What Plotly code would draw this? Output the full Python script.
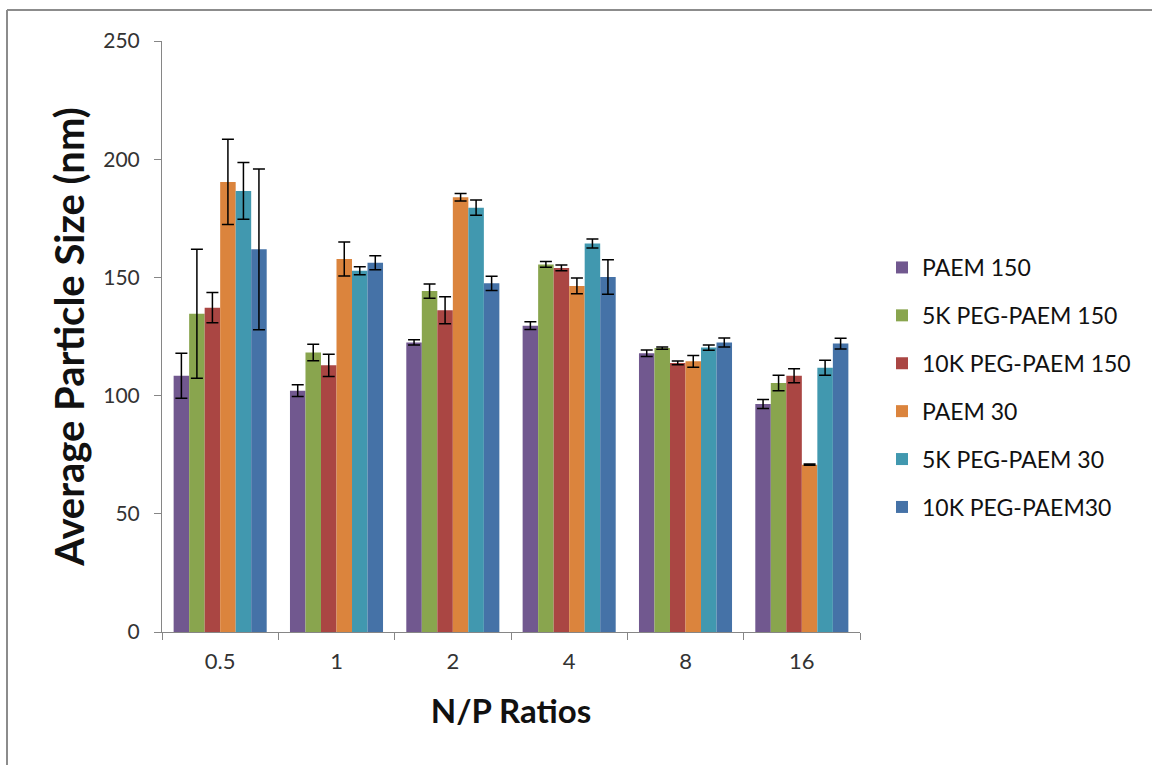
import plotly.graph_objects as go

categories = ["0.5", "1", "2", "4", "8", "16"]
series_names = ["PAEM 150", "5K PEG-PAEM 150", "10K PEG-PAEM 150",
                "PAEM 30", "5K PEG-PAEM 30", "10K PEG-PAEM30"]

paem150 = [108.4, 102.1, 122.5, 129.6, 117.9, 96.4]
peg5k150 = [134.6, 118.2, 144.2, 155.5, 120.1, 105.3]
peg10k150 = [137.2, 112.8, 136.1, 154.0, 113.8, 108.4]
paem30 = [190.4, 157.8, 183.9, 146.4, 114.5, 70.8]
peg5k30 = [186.6, 152.8, 179.5, 164.3, 120.3, 111.8]
peg10k30 = [161.9, 156.2, 147.5, 150.2, 122.5, 122.0]

err_paem150 = [9.5, 2.5, 1.1, 1.6, 1.4, 1.9]
err_peg5k150 = [27.3, 3.5, 3.0, 1.2, 0.5, 3.3]
err_peg10k150 = [6.4, 4.7, 5.7, 1.2, 0.8, 3.0]
err_paem30 = [18.0, 7.2, 1.6, 3.3, 2.5, 0.3]
err_peg5k30 = [12.0, 1.7, 3.2, 1.9, 1.1, 3.2]
err_peg10k30 = [34.0, 3.0, 3.0, 7.3, 1.9, 2.3]

colors = ["#71588F", "#89A54E", "#AA4643", "#DB843D", "#4198AF", "#4572A7"]

values = [paem150, peg5k150, peg10k150, paem30, peg5k30, peg10k30]
errors = [err_paem150, err_peg5k150, err_peg10k150, err_paem30, err_peg5k30, err_peg10k30]

FONT = "Lato"

fig = go.Figure()
for i, (name, v, e, c) in enumerate(zip(series_names, values, errors, colors)):
    fig.add_trace(go.Bar(
        x=categories, y=v, name=name, legendgroup=f"g{i}",
        marker=dict(color=c, line=dict(width=0)),
        error_y=dict(type="data", array=e, visible=True, color="black",
                     thickness=1.5, width=6),
    ))

# plot area in px: x 162..860, y 41..632
L, R, T, B = 162, 860, 41, 632
W, H = 1152, 765
def xp(px):
    return (px - L) / (R - L)
def yp(py):
    return (B - py) / (B - T)

fig.update_layout(
    width=W, height=H,
    margin=dict(l=L, r=W - R, t=T, b=H - B, pad=0),
    paper_bgcolor="white", plot_bgcolor="white",
    barmode="group", bargap=0.2, bargroupgap=0,
    font=dict(family=FONT, color="#222222"),
    showlegend=True,
    legend=dict(
        x=xp(882), y=yp(246), xanchor="left", yanchor="top",
        font=dict(size=23, family=FONT, color="#111111"),
        tracegroupgap=15, itemclick=False,
        bgcolor="rgba(0,0,0,0)",
    ),
    xaxis=dict(
        type="category", showline=True, linecolor="#868686", linewidth=1,
        ticks="outside", ticklen=7, tickcolor="#868686", tickson="boundaries",
        tickfont=dict(size=22, family=FONT, color="#333333"),
        ticklabelstandoff=10,
        title=dict(text="<b>N/P Ratios</b>", font=dict(size=33, family=FONT, color="#111111"),
                   standoff=26),
        showgrid=False, zeroline=False,
    ),
    yaxis=dict(
        range=[0, 250], tickvals=[0, 50, 100, 150, 200, 250],
        showline=True, linecolor="#868686", linewidth=1,
        ticks="outside", ticklen=7, tickcolor="#868686",
        tickfont=dict(size=21, family=FONT, color="#333333"),
        ticklabelstandoff=10,
        title=dict(text="<b>Average Particle Size (nm)</b>",
                   font=dict(size=40, family=FONT, color="#111111"), standoff=6),
        showgrid=False, zeroline=False,
    ),
    shapes=[
        dict(type="line", xref="paper", yref="paper",
             x0=xp(7), y0=yp(H + 5), x1=xp(7), y1=yp(10),
             line=dict(color="#8C8C8C", width=2)),
        dict(type="line", xref="paper", yref="paper",
             x0=xp(7), y0=yp(10), x1=xp(W + 5), y1=yp(10),
             line=dict(color="#8C8C8C", width=2)),
    ],
)

fig.write_html("out.html")
